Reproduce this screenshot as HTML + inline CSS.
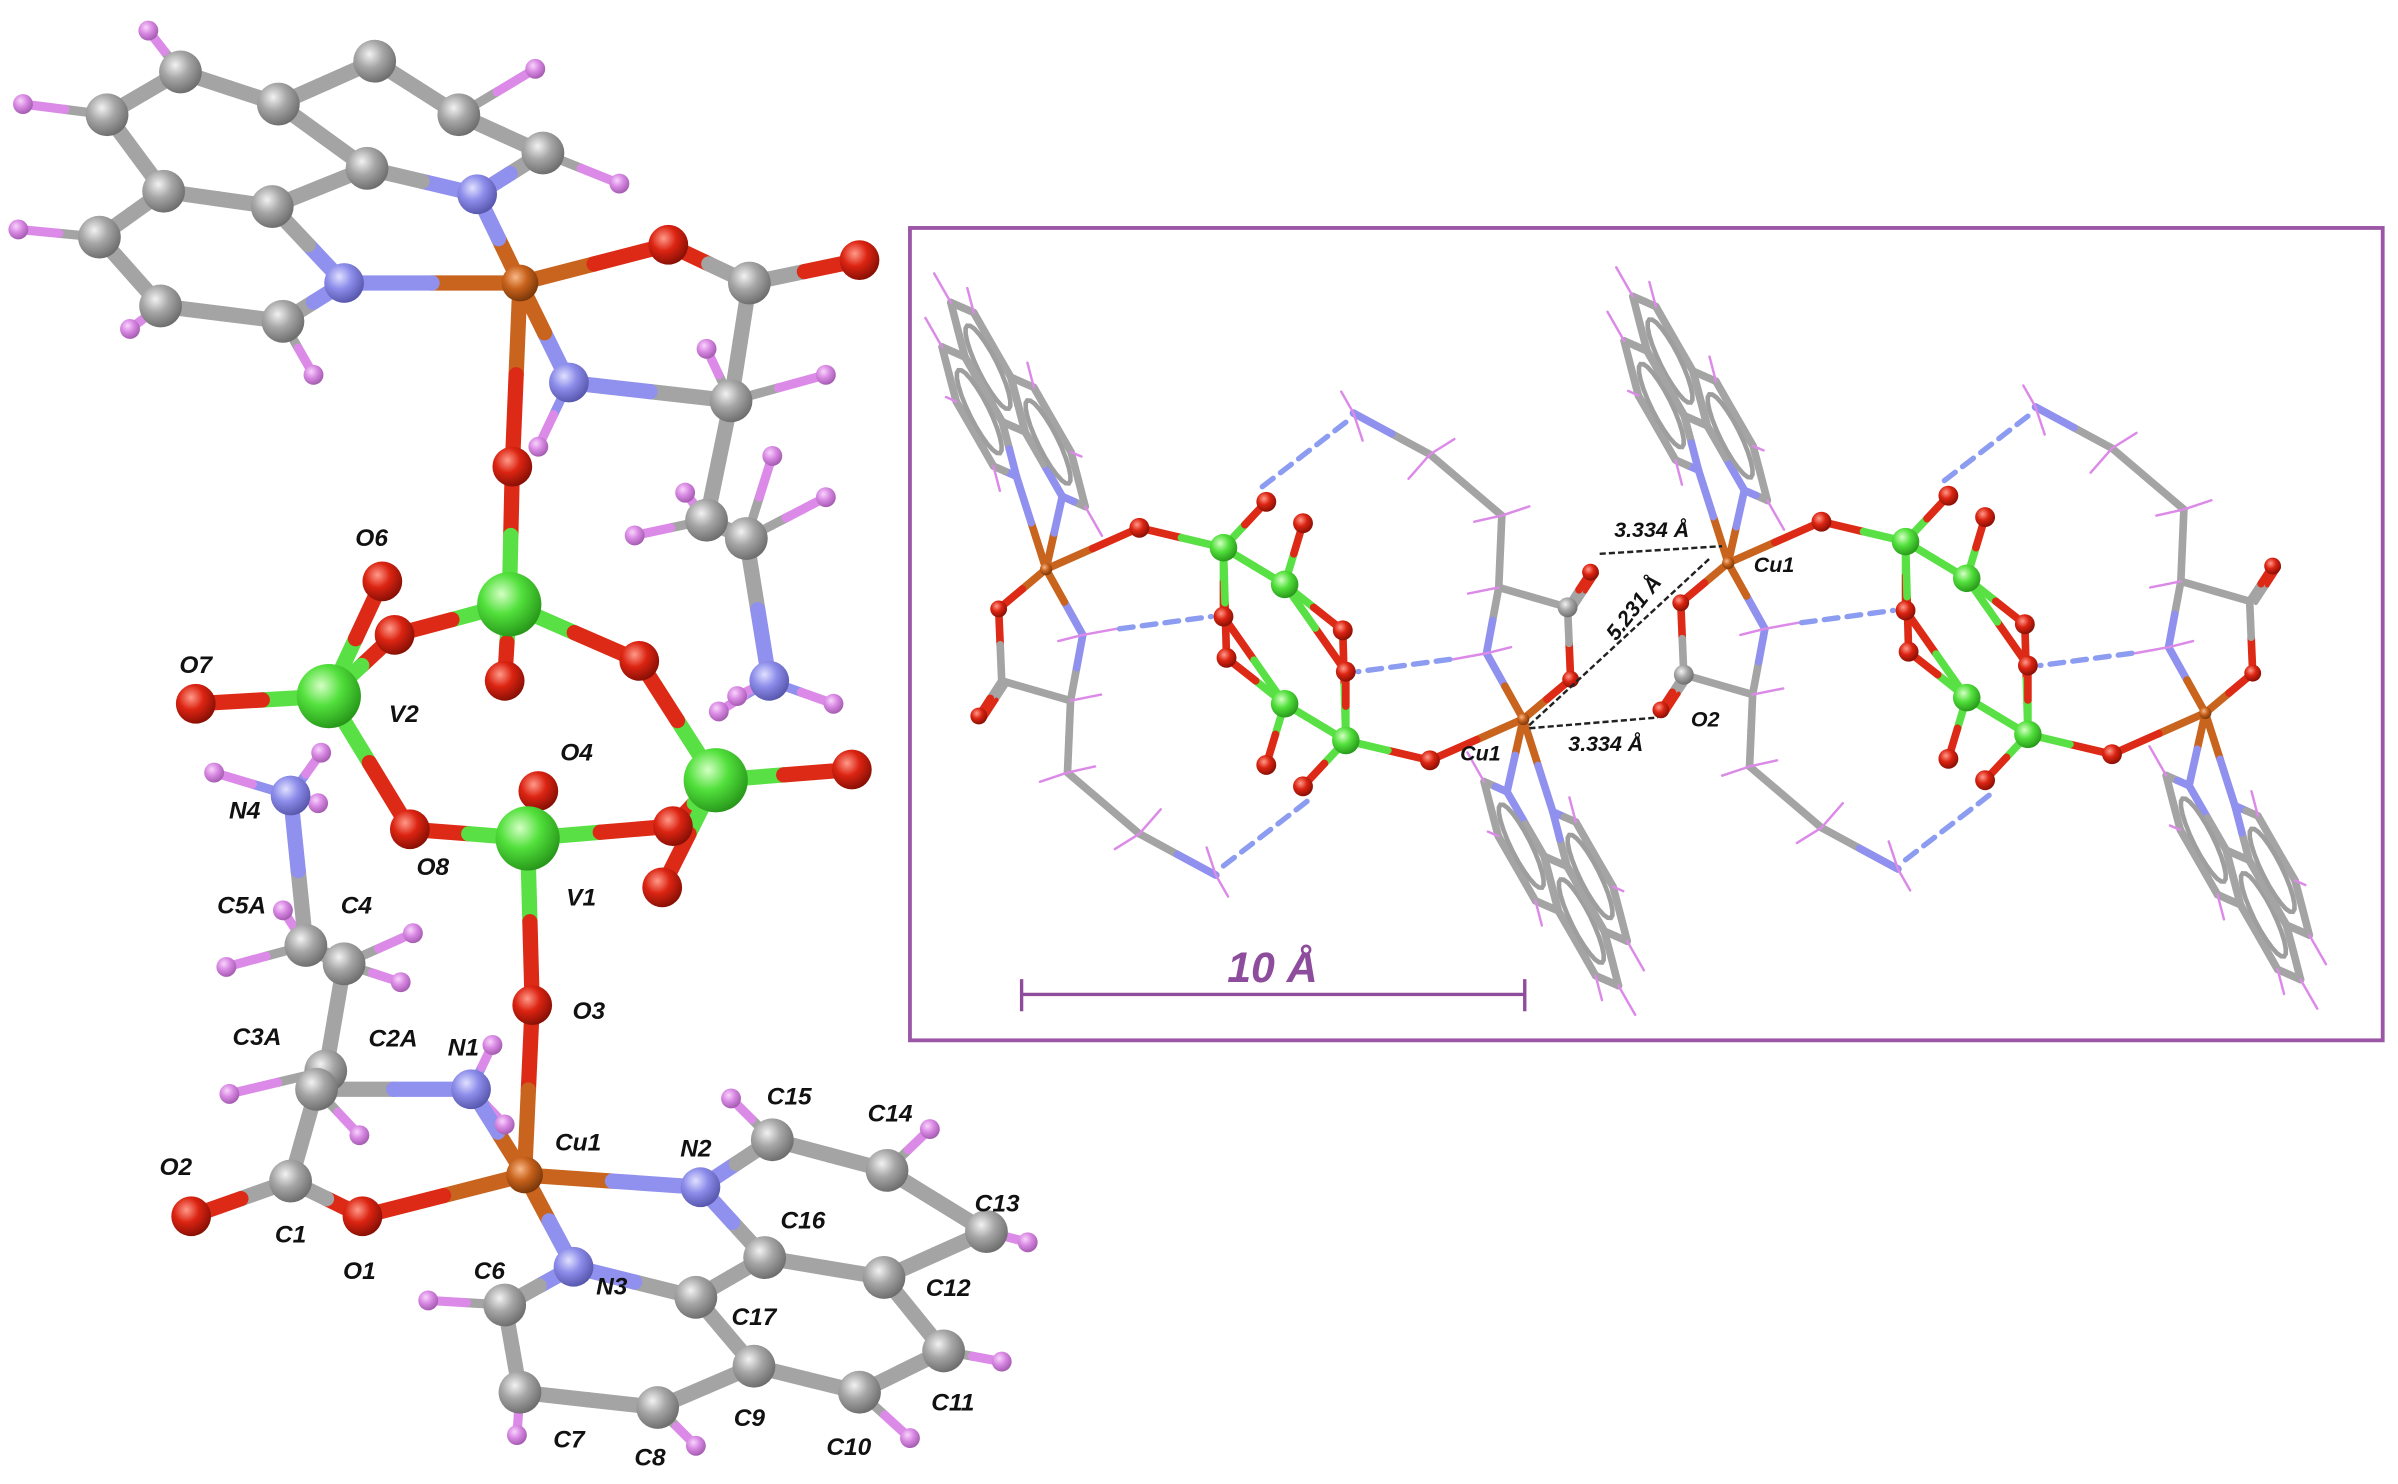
<!DOCTYPE html>
<html><head><meta charset="utf-8">
<style>
html,body{margin:0;padding:0;background:#fff;}
svg{display:block;}
</style></head>
<body>
<svg id="s" width="2398" height="1484" viewBox="0 0 1568 970" preserveAspectRatio="none"></svg>
<script>
var G={C:['#f2f2f2','#a6a6a6','#6a6a6a'],N:['#e0e0ff','#8c8cea','#5454aa'],O:['#ff9a8a','#dc2412','#820e04'],V:['#d4ffc4','#52e03c','#259418'],Cu:['#f8b888','#c8621c','#743408'],H:['#f8d4fb','#d98ae4','#a058ac']};
var col={C:'#a4a4a4',N:'#9090ee',O:'#dd2a16',V:'#58e044',Cu:'#c8641e',H:'#dc8ae8'};
var defs='<defs>';
for(var k in G){defs+='<radialGradient id="g'+k+'" cx="38%" cy="34%" r="70%"><stop offset="0" stop-color="'+G[k][0]+'"/><stop offset="0.45" stop-color="'+G[k][1]+'"/><stop offset="1" stop-color="'+G[k][2]+'"/></radialGradient>';}
defs+='</defs>';
var S='',B='',T='',D='';
function r1(v){return Math.round(v*10)/10;}
function ln(p,q,c,w){return '<line x1="'+r1(p[0])+'" y1="'+r1(p[1])+'" x2="'+r1(q[0])+'" y2="'+r1(q[1])+'" stroke="'+c+'" stroke-width="'+w+'" stroke-linecap="round"/>';}
function stick(p,q,tp,tq,w){var m=[(p[0]+q[0])/2,(p[1]+q[1])/2];S+=ln(p,m,col[tp],w)+ln(m,q,col[tq],w);}
function ball(p,t,r){B+='<circle cx="'+r1(p[0])+'" cy="'+r1(p[1])+'" r="'+r+'" fill="url(#g'+t+')"/>';}
function lab(x,y,s,sz){T+='<text x="'+x+'" y="'+y+'" font-family="Liberation Sans, sans-serif" font-weight="bold" font-style="italic" font-size="'+(sz||16)+'" fill="#111" text-anchor="middle">'+s+'</text>';}

/* ---------- LEFT STRUCTURE ---------- */
var A={
a1:[118,47,'C'],a2:[182,68,'C'],a3:[245,40,'C'],a4:[300,75,'C'],a5:[355,100,'C'],nA:[312,127,'N'],a6:[240,110,'C'],a7:[178,135,'C'],a8:[107,125,'C'],a9:[70,75,'C'],a10:[65,155,'C'],a11:[105,200,'C'],a12:[185,210,'C'],nB:[225,185,'N'],
cuT:[340,185,'Cu'],oT1:[437,160,'O'],cT1:[490,185,'C'],oT2:[562,170,'O'],cT2:[478,262,'C'],nT:[372,250,'N'],cT3:[462,340,'C'],cT4:[488,352,'C'],nT2:[503,445,'N'],
oTop:[335,305,'O'],V3:[333,395,'V'],o31:[330,445,'O'],o32:[258,415,'O'],o33:[418,432,'O'],O6:[250,380,'O'],V2:[215,455,'V'],O7:[128,460,'O'],O8:[268,542,'O'],V1:[345,548,'V'],O4:[352,517,'O'],o41:[440,540,'O'],o42:[433,580,'O'],V4:[468,510,'V'],o43:[557,503,'O'],O3:[348,657,'O'],
cuB:[343,768,'Cu'],N1:[308,712,'N'],N2:[458,776,'N'],N3:[375,828,'N'],O1:[237,795,'O'],C1:[190,772,'C'],O2:[125,795,'O'],C2A:[207,712,'C'],C3A:[213,700,'C'],C4:[225,630,'C'],C5A:[200,618,'C'],N4:[190,520,'N'],
C15:[505,745,'C'],C14:[580,765,'C'],C13:[645,805,'C'],C12:[578,835,'C'],C16:[500,822,'C'],C17:[455,848,'C'],C11:[617,883,'C'],C10:[562,910,'C'],C9:[493,893,'C'],C6:[330,853,'C'],C7:[340,910,'C'],C8:[430,920,'C']};
var bonds='a9-a1 a1-a2 a2-a3 a3-a4 a4-a5 a5-nA nA-a6 a6-a2 a6-a7 a7-a8 a8-a9 a8-a10 a10-a11 a11-a12 a12-nB nB-a7 cuT-nA cuT-nB cuT-oT1 oT1-cT1 cT1-oT2 cT1-cT2 cT2-nT nT-cuT cT2-cT3 cT3-cT4 cT4-nT2 cuT-oTop oTop-V3 V3-o31 V3-o32 V3-o33 o32-V2 V2-O6 V2-O7 V2-O8 O8-V1 V1-O4 V1-o41 o41-V4 V4-o33 V4-o43 V4-o42 V1-O3 O3-cuB cuB-N1 cuB-N2 cuB-N3 cuB-O1 O1-C1 C1-O2 C1-C2A C2A-N1 C2A-C3A C3A-C4 C4-C5A C5A-N4 N2-C15 C15-C14 C14-C13 C13-C12 C12-C16 C16-N2 C16-C17 C12-C11 C11-C10 C10-C9 C9-C17 C17-N3 N3-C6 C6-C7 C7-C8 C8-C9'.split(' ');
var Hs=[['a1',97,20],['a4',350,45],['a5',405,120],['a9',15,68],['a10',12,150],['a11',85,215],['a12',205,245],
['cT2',540,245],['cT2',462,228],['cT3',415,350],['cT3',448,322],['cT4',540,325],['cT4',505,298],['nT2',470,465],['nT2',545,460],['nT2',482,455],['nT',352,292],
['N4',140,505],['N4',210,492],['N4',208,525],['C5A',148,632],['C5A',185,595],['C4',270,610],['C4',262,642],['C3A',150,715],['C2A',235,742],['N1',322,683],['N1',330,735],
['C15',478,718],['C14',608,738],['C13',672,812],['C11',655,890],['C10',595,940],['C8',455,945],['C7',338,938],['C6',280,850]];
Hs.forEach(function(h){var p=A[h[0]];stick(p,[h[1],h[2]],p[2],'H',6);});
bonds.forEach(function(b){var x=b.split('-');var p=A[x[0]],q=A[x[1]];stick(p,q,p[2],q[2],10);});
Hs.forEach(function(h){ball([h[1],h[2]],'H',6.5);});
var RAD={C:14,N:13,O:13,V:21,Cu:12};
var order=Object.keys(A).sort(function(a,b){return A[a][1]-A[b][1];});
order.forEach(function(k){ball(A[k],A[k][2],RAD[A[k][2]]);});
[[243,357,'O6'],[128,440,'O7'],[264,472,'V2'],[160,535,'N4'],[377,497,'O4'],[283,572,'O8'],[380,592,'V1'],[158,597,'C5A'],[233,597,'C4'],[168,683,'C3A'],[257,684,'C2A'],[303,690,'N1'],[385,666,'O3'],[378,752,'Cu1'],[455,756,'N2'],[516,722,'C15'],[582,733,'C14'],[115,768,'O2'],[190,812,'C1'],[235,836,'O1'],[525,803,'C16'],[652,792,'C13'],[320,836,'C6'],[400,846,'N3'],[620,847,'C12'],[493,866,'C17'],[372,946,'C7'],[425,958,'C8'],[490,932,'C9'],[555,951,'C10'],[623,922,'C11']].forEach(function(l){lab(l[0],l[1],l[2]);});
var leftS=S,leftB=B;S='';B='';

/* ---------- RIGHT PANEL ---------- */
function unit(off){
  function tr(p,inv){var x=inv?1680-p[0]:p[0],y=inv?842-p[1]:p[1];return [x+off[0],y+off[1]];}
  for(var inv=0;inv<2;inv++){
    var t=function(p){return tr(p,inv);};
    var m=[15,6.6,19.4,45,646,240];
    function mp(x,y){return t([m[0]*x+m[2]*y+m[4],m[1]*x+m[3]*y+m[5]]);}
    var cu=t([684,372]);
    var centers=[[0,0],[1.5,0.866],[-1.5,0.866]];
    centers.forEach(function(c,ri){
      var vs=[];for(var a=0;a<6;a++){var an=a*Math.PI/3;vs.push([c[0]+Math.cos(an),c[1]+Math.sin(an)]);}
      for(var i=0;i<6;i++){var p=vs[i],q=vs[(i+1)%6];
        var tp=(Math.abs(Math.abs(p[0])-1)<0.01&&Math.abs(p[1]-1.732)<0.01)?'N':'C';
        var tq=(Math.abs(Math.abs(q[0])-1)<0.01&&Math.abs(q[1]-1.732)<0.01)?'N':'C';
        stick(mp(p[0],p[1]),mp(q[0],q[1]),tp,tq,5);}
      var pts=[];for(var j=0;j<24;j++){var an2=j*Math.PI/12;pts.push(mp(c[0]+0.6*Math.cos(an2),c[1]+0.6*Math.sin(an2)).map(r1).join(','));}
      S+='<polygon points="'+pts.join(' ')+'" fill="none" stroke="#9e9e9e" stroke-width="3"/>';
      var free=ri==0?[240,300]:(ri==1?[0,60,300]:[180,120,240]);
      free.forEach(function(dg){var an=dg*Math.PI/180;S+=ln(mp(c[0]+Math.cos(an),c[1]+Math.sin(an)),mp(c[0]+1.45*Math.cos(an),c[1]+1.45*Math.sin(an)),col.H,1.6);});
    });
    stick(cu,mp(1,1.732),'Cu','N',5);stick(cu,mp(-1,1.732),'Cu','N',5);
    var Oa1=t([745,345]),Va=t([800,358]),Vb=t([840,382]),Ot1=t([828,328]),Ot2=t([852,342]),Obr1=t([800,403]),Obr2=t([878,412]);
    var iVb=tr([840,382],!inv),iVa=tr([800,358],!inv),iOt1=tr([828,328],!inv);
    var Oc1=t([653,398]),Cc=t([655,445]),Oc2=t([640,468]),Cal=t([700,458]),Na=t([708,415]),Cb=t([698,505]),Cg=t([745,545]),Nz=t([795,572]);
    stick(cu,Oa1,'Cu','O',5);stick(Oa1,Va,'O','V',5);stick(Va,Vb,'V','V',5);stick(Va,Ot1,'V','O',5);stick(Vb,Ot2,'V','O',5);
    stick(Va,Obr1,'V','O',5);stick(Obr1,iVb,'O','V',5);stick(Vb,Obr2,'V','O',5);stick(Obr2,iVa,'O','V',5);
    stick(cu,Oc1,'Cu','O',5);stick(Oc1,Cc,'O','C',5);stick(Cc,Oc2,'C','O',5);stick([Cc[0]+4,Cc[1]+1],[Oc2[0]+4,Oc2[1]+1],'C','O',3);
    stick(Cc,Cal,'C','C',5);stick(Cal,Na,'C','N',5);stick(Na,cu,'N','Cu',5);stick(Cal,Cb,'C','C',5);stick(Cb,Cg,'C','C',5);stick(Cg,Nz,'C','N',5);
    [[Cal,[20,-4]],[Cb,[-18,6]],[Cb,[18,-4]],[Cg,[-16,10]],[Cg,[14,-16]],[Nz,[-6,-18]],[Nz,[8,14]],[Na,[-16,4]]].forEach(function(h){S+=ln(h[0],[h[0][0]+h[1][0]*(inv?-1:1),h[0][1]+h[1][1]*(inv?-1:1)],col.H,1.6);});
    S+=ln(Na,[Na[0]+(inv?-22:22),Na[1]+(inv?4:-4)],col.H,1.6);
    D+=ln([Na[0]+(inv?-24:24),Na[1]+(inv?4:-4)],[Obr1[0]+(inv?8:-8),Obr1[1]],'#8c9cf0',3.5).replace('/>',' stroke-dasharray="9 6"/>');
    D+=ln([Nz[0]+(inv?-5:5),Nz[1]+(inv?6:-6)],[iOt1[0]+(inv?-5:5),iOt1[1]+(inv?-8:8)],'#8c9cf0',3.5).replace('/>',' stroke-dasharray="9 6"/>');
    ball(Oa1,'O',6.5);ball(Va,'V',9);ball(Vb,'V',9);ball(Ot1,'O',6.5);ball(Ot2,'O',6.5);ball(Obr1,'O',6.5);ball(Obr2,'O',6.5);
    ball(Oc2,'O',5.5);ball(Oc1,'O',5.5);
    if((inv==1&&off[0]==0)||(inv==0&&off[0]>0)) ball(Cc,'C',6.5);
    ball(cu,'Cu',4);
  }
}
unit([0,0]);unit([446,-4]);
var panelS=S,panelB=B;
var DK='';
function dk(p,q){DK+='<line x1="'+p[0]+'" y1="'+p[1]+'" x2="'+q[0]+'" y2="'+q[1]+'" stroke="#222" stroke-width="1.6" stroke-dasharray="4 2"/>';}
dk([1046,362],[1126,357]);dk([1000,476],[1084,469]);dk([1000,474],[1118,365]);
lab(1080,351,'3.334 Å',14);lab(1050,491,'3.334 Å',14);lab(1115,475,'O2',14);lab(968,497,'Cu1',14);lab(1160,374,'Cu1',14);
T+='<text x="1068" y="402" font-family="Liberation Sans, sans-serif" font-weight="bold" font-style="italic" font-size="14" fill="#111" text-anchor="middle" transform="rotate(-52 1068 397)">5.231 Å</text>';
var box='<rect x="595" y="149" width="963" height="531" fill="none" stroke="#9b56a6" stroke-width="2.5"/>';
var bar='<g stroke="#8e4c9c" stroke-width="2.2"><line x1="668" y1="650" x2="997" y2="650"/><line x1="668" y1="640" x2="668" y2="661"/><line x1="997" y1="640" x2="997" y2="661"/></g><text x="832" y="642" font-family="Liberation Sans, sans-serif" font-weight="bold" font-style="italic" font-size="28" fill="#8e4c9c" text-anchor="middle">10 Å</text>';
document.getElementById('s').innerHTML=defs+'<rect width="1568" height="970" fill="#fff"/>'+leftS+leftB+panelS+D+panelB+DK+box+bar+T;
</script>
</body></html>
